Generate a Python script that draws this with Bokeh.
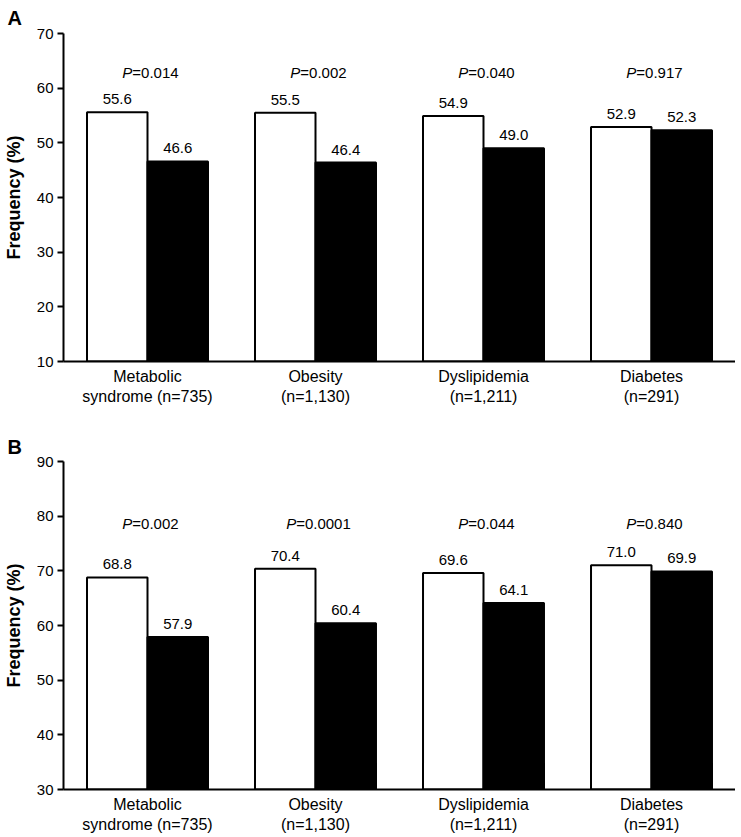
from bokeh.plotting import figure
from bokeh.models import Range1d, FactorRange, ColumnDataSource, FixedTicker
from bokeh.transform import dodge
from bokeh.layouts import column
from bokeh.embed import file_html
from bokeh.resources import INLINE
from bokeh.core.properties import value

# ---------------- data ----------------
categories = ["Metabolic\nsyndrome (n=735)", "Obesity\n(n=1,130)",
              "Dyslipidemia\n(n=1,211)", "Diabetes\n(n=291)"]

a_white = [55.6, 55.5, 54.9, 52.9]
a_black = [46.6, 46.4, 49.0, 52.3]
a_pvals = ["0.014", "0.002", "0.040", "0.917"]
a_ticks = [10, 20, 30, 40, 50, 60, 70]

b_white = [68.8, 70.4, 69.6, 71.0]
b_black = [57.9, 60.4, 64.1, 69.9]
b_pvals = ["0.002", "0.0001", "0.044", "0.840"]
b_ticks = [30, 40, 50, 60, 70, 80, 90]

FONT = "Liberation Sans"


def panel(letter, white, black, pvals, ticks, p_y, height, top, bottom, letter_standoff):
    lo, hi = ticks[0], ticks[-1]
    p = figure(x_range=FactorRange(*categories, range_padding=0),
               y_range=Range1d(lo, hi), width=735, height=height,
               output_backend="svg", toolbar_location=None,
               min_border_left=58, min_border_right=0,
               min_border_top=top, min_border_bottom=bottom)
    p.outline_line_color = None
    p.xgrid.grid_line_color = None
    p.ygrid.grid_line_color = None
    p.background_fill_color = "white"
    p.border_fill_color = "white"

    p.title.text = letter
    p.title.align = "left"
    p.title.offset = -56
    p.title.standoff = letter_standoff
    p.title.text_font = FONT
    p.title.text_font_size = "20px"
    p.title.text_font_style = "bold"
    p.title.text_color = "black"

    src = ColumnDataSource(dict(
        cat=categories, white=white, black=black,
        wlab=[f"{v:.1f}" for v in white], blab=[f"{v:.1f}" for v in black],
        prest=["=" + s for s in pvals],
        poff=[(10.0 - (8.8 + 8.34 * sum(c.isdigit() for c in s) + 4.17 * s.count("."))) / 2.0 + 3
              for s in pvals],
        py=[p_y] * len(categories)))

    p.vbar(x=dodge("cat", -0.18, range=p.x_range), top="white", bottom=lo, width=0.36,
           source=src, fill_color="white", line_color="black", line_width=2)
    p.vbar(x=dodge("cat", 0.18, range=p.x_range), top="black", bottom=lo, width=0.36,
           source=src, fill_color="black", line_color="black", line_width=2)

    p.text(x=dodge("cat", -0.18, range=p.x_range), y="white", text="wlab", source=src,
           text_align="center", text_baseline="bottom", y_offset=-8,
           text_font=value(FONT), text_font_size="15px", text_color="black")
    p.text(x=dodge("cat", 0.18, range=p.x_range), y="black", text="blab", source=src,
           text_align="center", text_baseline="bottom", y_offset=-8,
           text_font=value(FONT), text_font_size="15px", text_color="black")

    p.text(x="cat", y="py", text=value("P"), source=src, x_offset="poff",
           text_align="right", text_baseline="middle", text_font_style="italic",
           text_font=value(FONT), text_font_size="15px", text_color="black")
    p.text(x="cat", y="py", text="prest", source=src, x_offset="poff",
           text_align="left", text_baseline="middle",
           text_font=value(FONT), text_font_size="15px", text_color="black")

    # axes
    p.yaxis.ticker = FixedTicker(ticks=ticks)
    p.yaxis.minor_tick_line_color = None
    p.yaxis.major_tick_out = 6
    p.yaxis.major_tick_in = 0
    p.yaxis.major_label_standoff = 4
    p.yaxis.axis_line_width = 2
    p.yaxis.major_tick_line_width = 2
    p.yaxis.major_label_text_font = FONT
    p.yaxis.major_label_text_font_size = "15px"
    p.yaxis.major_label_text_color = "black"
    p.yaxis.axis_label = "Frequency (%)"
    p.yaxis.axis_label_text_font = FONT
    p.yaxis.axis_label_text_font_style = "bold"
    p.yaxis.axis_label_text_font_size = "18px"
    p.yaxis.axis_label_text_color = "black"
    p.yaxis.axis_label_standoff = 10

    p.xaxis.major_tick_line_color = None
    p.xaxis.minor_tick_line_color = None
    p.xaxis.axis_line_width = 2
    p.xaxis.major_label_standoff = 0
    p.xaxis.major_label_text_font = FONT
    p.xaxis.major_label_text_font_size = "16px"
    p.xaxis.major_label_text_color = "black"
    return p


pA = panel("A", a_white, a_black, a_pvals, a_ticks, p_y=62.9,
           height=416, top=33, bottom=55, letter_standoff=9)
pB = panel("B", b_white, b_black, b_pvals, b_ticks, p_y=78.7,
           height=420, top=45, bottom=47, letter_standoff=8)

layout = column(pA, pB, spacing=0)
open("out.html", "w").write(file_html(layout, INLINE))
